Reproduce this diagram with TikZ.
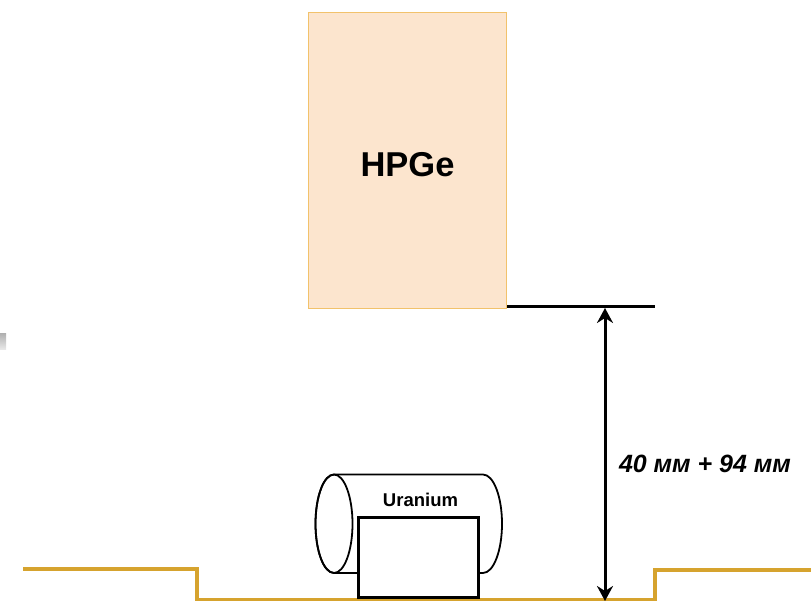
\documentclass[tikz,border=0pt]{standalone}
\usepackage{fontspec}
\setmainfont{Liberation Sans}
\usetikzlibrary{arrows.meta}
\definecolor{gold}{HTML}{D6A32E}
\definecolor{peach}{HTML}{FCE5CE}
\definecolor{peachline}{HTML}{F2C26B}
\tikzset{
  detector/.style={draw=peachline,fill=peach,line width=1.4pt,minimum width=198pt,minimum height=296pt,inner sep=0pt},
  holder/.style={draw=black,fill=white,line width=3pt,minimum width=120pt,minimum height=80pt,inner sep=0pt},
  outline/.style={draw=black,line width=1.8pt},
  floorline/.style={draw=gold,line width=4pt,line join=miter},
  dimline/.style={draw=black,line width=3pt},
  dimarrow/.style={draw=black,line width=3pt,{Stealth[length=15pt,width=16pt,inset=5pt]}-{Stealth[length=15pt,width=16pt,inset=5pt]}},
  lab/.style={inner sep=0pt}
}
\begin{document}
\begin{tikzpicture}[x=1pt,y=-1pt]
\useasboundingbox (0,0) rectangle (811,601);
% stray grey mark at the left edge
\shade[top color=black!30,bottom color=black!8] (0,334) rectangle (6,350);
% floor
\coordinate (fa) at (23,568.5);
\coordinate (fb) at (197,568.5);
\coordinate (fc) at (197,600);
\coordinate (fd) at (655,600);
\coordinate (fe) at (655,569.5);
\coordinate (ff) at (811,569.5);
\draw[floorline] (fa) -- (fb) -- (fc) -- (fd) -- (fe) -- (ff);
% detector
\node[detector] (hpge) at (407.5,160.3) {};
\node[lab,font=\bfseries\fontsize{34.5}{38}\selectfont] (hpgelabel) at (407.5,165) {HPGe};
% cylinder
\coordinate (ct) at (334,474.5);
\coordinate (cb) at (334,573);
\coordinate (rt) at (483,474.5);
\draw[outline,fill=white] (ct) -- (rt) arc[start angle=-90,end angle=90,x radius=19,y radius=49.25] -- (cb) arc[start angle=90,end angle=270,x radius=18.5,y radius=49.25];
\draw[outline] (334,523.75) ellipse[x radius=18.5,y radius=49.25];
\node[lab,font=\bfseries\fontsize{18.5}{21}\selectfont] (u) at (420.5,500) {Uranium};
\node[holder] (box) at (418,557) {};
% dimension
\coordinate (d2) at (655,307);
\draw[dimline] (hpge.east|-d2) -- (d2);
\coordinate (atop) at (605,308);
\coordinate (abot) at (605,601);
\draw[dimarrow] (abot) -- (atop);
\node[lab,font=\bfseries\itshape\fontsize{25}{28}\selectfont] (dim) at (705,463.5) {40 мм + 94 мм};
\end{tikzpicture}
\end{document}
